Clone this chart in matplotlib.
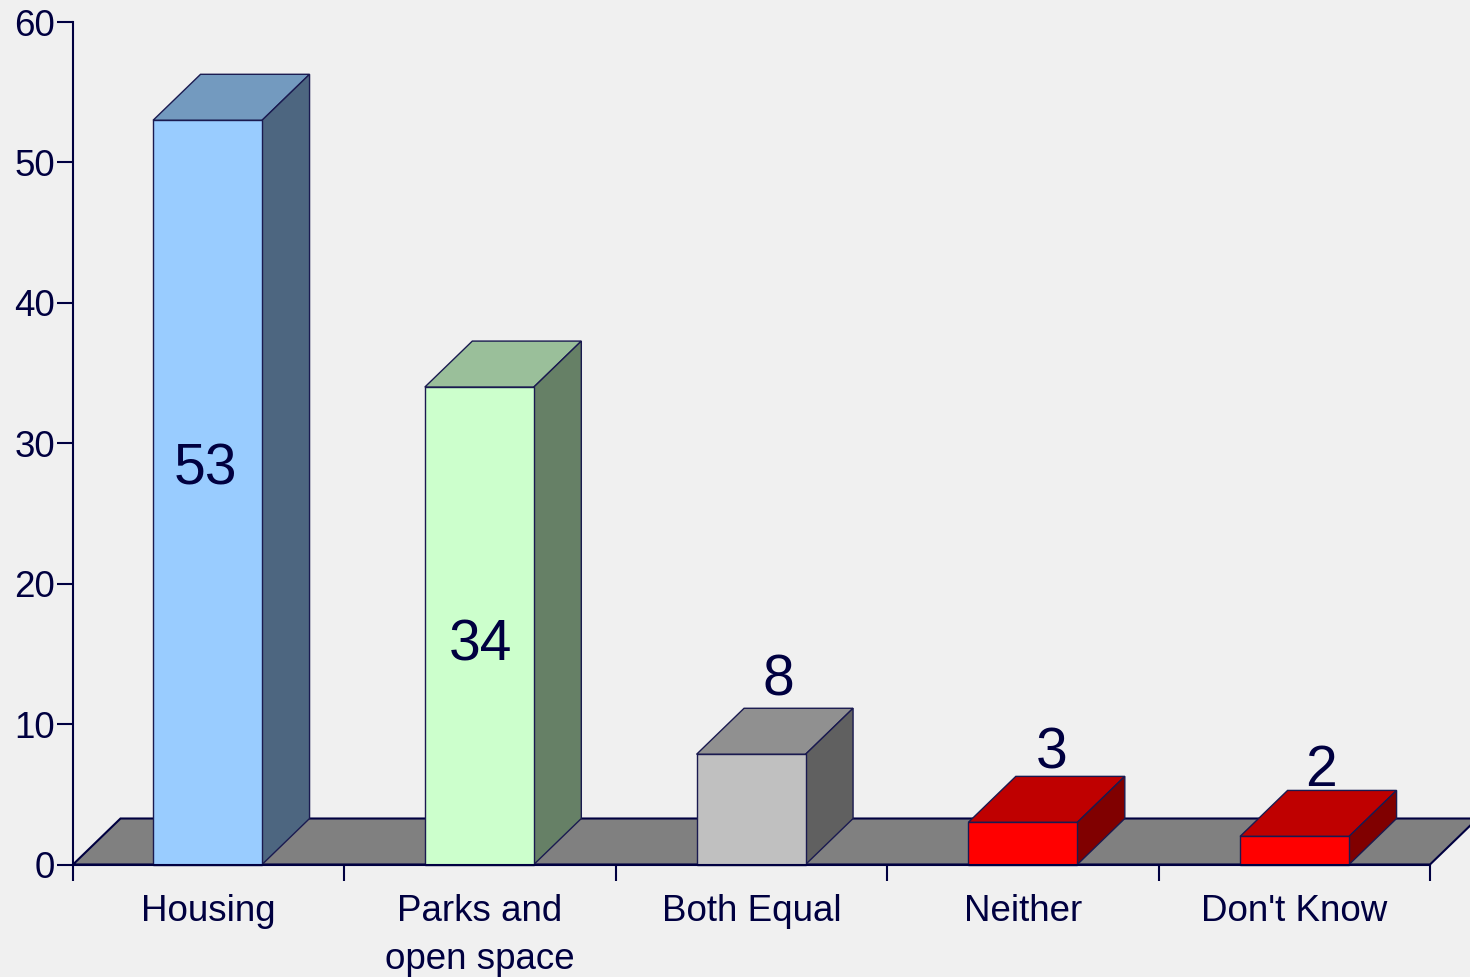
import matplotlib
matplotlib.use("Agg")
from matplotlib import pyplot as plt
from matplotlib.patches import Polygon

categories = ["Housing", "Parks and\nopen space", "Both Equal", "Neither", "Don't Know"]
values = [53, 34, 7.85, 3, 2]
value_labels = ["53", "34", "8", "3", "2"]
y_ticks = [0, 10, 20, 30, 40, 50, 60]
front_colors = ["#99CCFF", "#CCFFCC", "#C0C0C0", "#FF0000", "#FF0000"]
top_colors = ["#739ABF", "#9ABF9A", "#909090", "#BF0000", "#BF0000"]
side_colors = ["#4D6680", "#668066", "#606060", "#800000", "#800000"]

W, H = 1470, 977
BG = "#F0F0F0"
INK = "#000040"
plt.rcParams["font.family"] = ["Liberation Sans", "DejaVu Sans"]

fig = plt.figure(figsize=(W / 100, H / 100), dpi=100, facecolor=BG)
ax = fig.add_axes([73 / W, 1 - 864.5 / H, (1430 - 73) / W, 842.5 / H], facecolor="none")
ax.set_xlim(0, 5)
ax.set_ylim(0, 60)

# depth of the fake 3d, in data units
px_x = 1357 / 5
px_y = 842.5 / 60
dx = 47.5 / px_x
dy = 46 / px_y
bar_w = 109 / px_x

# label shift from its anchor, in pixels (up is positive)
nudge_x = [-2, 1, 2, 4, 1]
nudge_y = [23, -20, 1, -4, -8]


def poly(pts, color, z, lw=1.0, edge="#1A1A50"):
    ax.add_patch(Polygon(pts, closed=True, facecolor=color, edgecolor=edge, linewidth=lw,
                         clip_on=False, zorder=z))


# floor
poly([(0, 0), (dx, dy), (5 + dx, dy), (5, 0)], "#808080", 1, lw=1.5, edge=INK)

for i, v in enumerate(values):
    x0 = 0.295 + i * 1.0013
    x1 = x0 + bar_w
    poly([(x0, v), (x0 + dx, v + dy), (x1 + dx, v + dy), (x1, v)], top_colors[i], 2)
    poly([(x1, 0), (x1 + dx, dy), (x1 + dx, v + dy), (x1, v)], side_colors[i], 2)
    poly([(x0, 0), (x1, 0), (x1, v), (x0, v)], front_colors[i], 3)
    if v > 10:
        xy = ((x0 + x1) / 2, v / 2)
        va = "center"
    else:
        xy = ((x0 + x1) / 2 + dx / 2 + 0.005, v + dy)
        va = "bottom"
    ax.annotate(value_labels[i], xy=xy, xytext=(nudge_x[i] * 0.72, nudge_y[i] * 0.72),
                textcoords="offset points", ha="center", va=va, fontsize=41, color=INK, zorder=6)

ax.set_xticks(range(6))
ax.set_xticklabels([])
ax.set_yticks(y_ticks)
ax.tick_params(axis="both", length=11.5, width=1.5, color=INK, labelcolor=INK, labelsize=26.5)
ax.tick_params(axis="y", pad=1.5)
for i, c in enumerate(categories):
    ax.annotate(c, xy=(i + 0.5, 0), xytext=(0, -21), xycoords=("data", "axes fraction"),
                textcoords="offset points", ha="center", va="top", fontsize=26.5, color=INK,
                linespacing=1.5, annotation_clip=False)
for s in ["top", "right"]:
    ax.spines[s].set_visible(False)
for s in ["left", "bottom"]:
    ax.spines[s].set_color(INK)
    ax.spines[s].set_linewidth(1.5)
    ax.spines[s].set_zorder(5)

fig.savefig("out.png", dpi=100, facecolor=BG)
